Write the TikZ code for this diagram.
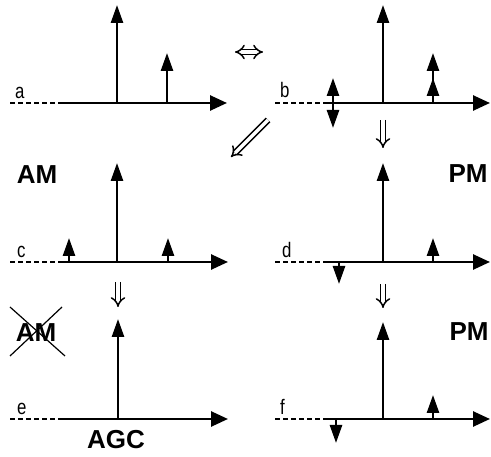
\documentclass[tikz,border=0pt]{standalone}
\usepackage{fontspec}
\setmainfont{Liberation Sans}
\usetikzlibrary{arrows.meta}
\begin{document}
\begin{tikzpicture}[x=1pt,y=-1pt,
  axisline/.style={line width=2.6pt,-{Triangle[length=17pt,width=15pt]}},
  dashline/.style={line width=2pt,dash pattern=on 5pt off 3pt},
  spike/.style={line width=2.6pt,-{Triangle[length=18pt,width=12pt]}},
  bispike/.style={line width=2.6pt,{Triangle[length=18pt,width=12pt]}-{Triangle[length=18pt,width=12pt]}},
  dblarrow/.style={double,double distance=3.4pt,line width=1.5pt,-{Implies}},
  lbl/.style={inner sep=0pt,anchor=base west,font=\fontsize{21}{24}\selectfont},
  big/.style={inner sep=0pt,font=\fontsize{26}{30}\selectfont\bfseries},
  crossline/.style={line width=1.2pt}
]
\useasboundingbox (0,0) rectangle (491,457);

% ---------- panel a ----------
\coordinate (a0) at (10,103);
\coordinate (a1) at (58,103);
\coordinate (a2) at (227,103);
\draw[dashline] (a0) -- (a1);
\draw[axisline] (a1) -- (a2);
\coordinate (ac) at (117,103); \coordinate (act) at (117,5);
\draw[spike] (ac) -- (act);
\coordinate (as) at (167,103); \coordinate (ast) at (167,53);
\draw[spike] (as) -- (ast);
\node[lbl] (la) at (15,99) {\scalebox{0.8}[1]{a}};

% ---------- panel b ----------
\coordinate (b0) at (275,103);
\coordinate (b1) at (325,103);
\coordinate (b2) at (490,103);
\draw[dashline] (b0) -- (b1);
\draw[axisline] (b1) -- (b2);
\coordinate (bc) at (383,103); \coordinate (bct) at (383,5);
\draw[spike] (bc) -- (bct);
\coordinate (bs) at (433,103); \coordinate (bst) at (433,53); \coordinate (bst2) at (433,78);
\draw[spike] (bs) -- (bst);
\draw[spike] (bs) -- (bst2);
\coordinate (bl1) at (333,128); \coordinate (bl2) at (333,78);
\draw[bispike] (bl1) -- (bl2);
\node[lbl] (lb) at (280,98) {\scalebox{0.8}[1]{b}};

% ---------- equivalence arrows ----------
\coordinate (eq1) at (235,52); \coordinate (eq2) at (263,52);
\draw[double,double distance=3.4pt,line width=1.5pt,{Implies}-{Implies}] (eq1) -- (eq2);
\coordinate (dg1) at (268,120); \coordinate (dg2) at (231,157);
\draw[dblarrow] (dg1) -- (dg2);
\coordinate (dr1) at (383,120); \coordinate (dr2) at (383,148);
\draw[dblarrow] (dr1) -- (dr2);

% ---------- panel c ----------
\coordinate (c0) at (10,262);
\coordinate (c1) at (58,262);
\coordinate (c2) at (228,262);
\draw[dashline] (c0) -- (c1);
\draw[axisline] (c1) -- (c2);
\coordinate (cc) at (117,262); \coordinate (cct) at (117,163);
\draw[spike] (cc) -- (cct);
\coordinate (cl) at (69,262); \coordinate (clt) at (69,238);
\draw[spike] (cl) -- (clt);
\coordinate (cr) at (168,262); \coordinate (crt) at (168,238);
\draw[spike] (cr) -- (crt);
\node[lbl] (lc) at (17,258) {\scalebox{0.8}[1]{c}};
\node[big] (am1) at (37,175) {AM};

% ---------- panel d ----------
\coordinate (d0) at (275,262);
\coordinate (d1) at (325,262);
\coordinate (d2) at (490,262);
\draw[dashline] (d0) -- (d1);
\draw[axisline] (d1) -- (d2);
\coordinate (dc) at (383,262); \coordinate (dct) at (383,163);
\draw[spike] (dc) -- (dct);
\coordinate (ds) at (433,262); \coordinate (dst) at (433,238);
\draw[spike] (ds) -- (dst);
\coordinate (dd) at (339,262); \coordinate (ddt) at (339,284);
\draw[spike] (dd) -- (ddt);
\node[lbl] (ld) at (282,258) {\scalebox{0.8}[1]{d}};
\node[big] (pm1) at (468,174) {PM};

% ---------- down arrows ----------
\coordinate (dl1) at (118,282); \coordinate (dl2) at (118,307);
\draw[dblarrow] (dl1) -- (dl2);
\coordinate (dr3) at (383,284); \coordinate (dr4) at (383,308);
\draw[dblarrow] (dr3) -- (dr4);

% ---------- panel e ----------
\coordinate (e0) at (10,419);
\coordinate (e1) at (58,419);
\coordinate (e2) at (228,419);
\draw[dashline] (e0) -- (e1);
\draw[axisline] (e1) -- (e2);
\coordinate (ec) at (118,419); \coordinate (ect) at (118,319);
\draw[spike] (ec) -- (ect);
\node[lbl] (le) at (17,415) {\scalebox{0.8}[1]{e}};
\node[big] (am2) at (36,333) {AM};
\coordinate (x1) at (10,307); \coordinate (x2) at (65,356);
\coordinate (x3) at (62,307); \coordinate (x4) at (10,356);
\draw[crossline] (x1) -- (x2);
\draw[crossline] (x3) -- (x4);
\node[big] (agc) at (116,440) {AGC};

% ---------- panel f ----------
\coordinate (f0) at (275,419);
\coordinate (f1) at (325,419);
\coordinate (f2) at (490,419);
\draw[dashline] (f0) -- (f1);
\draw[axisline] (f1) -- (f2);
\coordinate (fc) at (383,419); \coordinate (fct) at (383,322);
\draw[spike] (fc) -- (fct);
\coordinate (fs) at (433,419); \coordinate (fst) at (433,395);
\draw[spike] (fs) -- (fst);
\coordinate (fd) at (336,419); \coordinate (fdt) at (336,443);
\draw[spike] (fd) -- (fdt);
\node[lbl] (lf) at (280,415) {\scalebox{0.8}[1]{f}};
\node[big] (pm2) at (469,332) {PM};
\end{tikzpicture}
\end{document}
